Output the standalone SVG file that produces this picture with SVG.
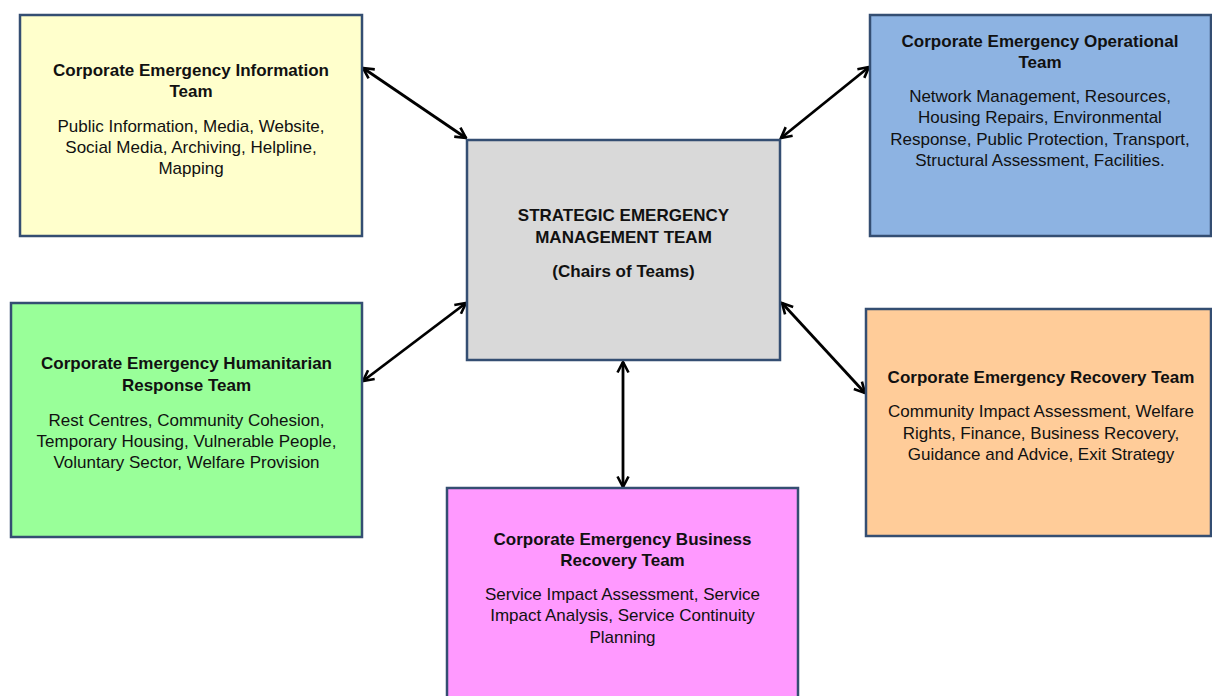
<svg xmlns="http://www.w3.org/2000/svg" width="1212" height="696" viewBox="0 0 1212 696">
<style>
.box{stroke:#344E72;stroke-width:2.5}
.t{font-family:"Liberation Sans",Arial,sans-serif;font-size:17px;fill:#111;text-anchor:middle}
.b{font-weight:bold}
.c{stroke:#000;stroke-width:2.8;fill:none;marker-start:url(#ah);marker-end:url(#ah)}
</style>
<defs>
<marker id="ah" viewBox="0 0 14 14" refX="12.5" refY="7" markerWidth="14" markerHeight="14" markerUnits="userSpaceOnUse" orient="auto-start-reverse">
<path d="M2,1.5 L12.5,7 L2,12.5" fill="none" stroke="#000" stroke-width="2.6"/>
</marker>
</defs>
<rect width="1212" height="696" fill="#fff"/>
<g id="connectors">
<line class="c" x1="363" y1="68" x2="466" y2="138"/>
<line class="c" x1="869" y1="67" x2="781" y2="138"/>
<line class="c" x1="363" y1="381" x2="466" y2="303"/>
<line class="c" x1="865" y1="393" x2="782" y2="303"/>
<line class="c" x1="623" y1="362" x2="623" y2="487"/>
</g>
<g id="info">
<rect class="box" x="20" y="15" width="342" height="221" fill="#FFFFCC"/>
<text class="t b" x="191" y="76">Corporate Emergency Information</text>
<text class="t b" x="191" y="97">Team</text>
<text class="t" x="191" y="132">Public Information, Media, Website,</text>
<text class="t" x="191" y="153">Social Media, Archiving, Helpline,</text>
<text class="t" x="191" y="174">Mapping</text>
</g>
<g id="operational">
<rect class="box" x="870" y="15" width="341" height="221" fill="#8DB3E2"/>
<text class="t b" x="1040" y="47">Corporate Emergency Operational</text>
<text class="t b" x="1040" y="68">Team</text>
<text class="t" x="1040" y="102">Network Management, Resources,</text>
<text class="t" x="1040" y="123">Housing Repairs, Environmental</text>
<text class="t" x="1040" y="145">Response, Public Protection, Transport,</text>
<text class="t" x="1040" y="166">Structural Assessment, Facilities.</text>
</g>
<g id="strategic">
<rect class="box" x="467" y="140" width="313" height="220" fill="#D9D9D9"/>
<text class="t b" x="623.5" y="221">STRATEGIC EMERGENCY</text>
<text class="t b" x="623.5" y="243">MANAGEMENT TEAM</text>
<text class="t b" x="623.5" y="277">(Chairs of Teams)</text>
</g>
<g id="humanitarian">
<rect class="box" x="11" y="303" width="351" height="234" fill="#99FF99"/>
<text class="t b" x="186.5" y="369">Corporate Emergency Humanitarian</text>
<text class="t b" x="186.5" y="391">Response Team</text>
<text class="t" x="186.5" y="426">Rest Centres, Community Cohesion,</text>
<text class="t" x="186.5" y="447">Temporary Housing, Vulnerable People,</text>
<text class="t" x="186.5" y="468">Voluntary Sector, Welfare Provision</text>
</g>
<g id="recovery">
<rect class="box" x="866" y="309" width="345" height="227" fill="#FFCC99"/>
<text class="t b" x="1041" y="383">Corporate Emergency Recovery Team</text>
<text class="t" x="1041" y="417">Community Impact Assessment, Welfare</text>
<text class="t" x="1041" y="439">Rights, Finance, Business Recovery,</text>
<text class="t" x="1041" y="460">Guidance and Advice, Exit Strategy</text>
</g>
<g id="business">
<rect class="box" x="447" y="488" width="351" height="220" fill="#FF99FF"/>
<text class="t b" x="622.5" y="545">Corporate Emergency Business</text>
<text class="t b" x="622.5" y="566">Recovery Team</text>
<text class="t" x="622.5" y="600">Service Impact Assessment, Service</text>
<text class="t" x="622.5" y="621">Impact Analysis, Service Continuity</text>
<text class="t" x="622.5" y="643">Planning</text>
</g>
</svg>
